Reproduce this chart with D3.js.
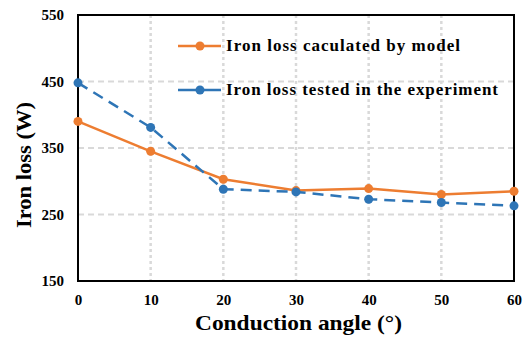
<!DOCTYPE html>
<html><head><meta charset="utf-8">
<script src="https://cdn.jsdelivr.net/npm/d3@7"></script>
<style>body{margin:0;background:#fff}svg{display:block}</style>
</head><body><svg id="c" width="530" height="339"></svg>
<script>
const angles = [0,10,20,30,40,50,60];
const modelLoss = [390,345,303,286,289,280,285];
const testLoss = [448,381,288,284,273,268,263];
const xTicks = [0,10,20,30,40,50,60];
const yTicks = [150,250,350,450,550];
const seriesNames = ["Iron loss caculated by model","Iron loss tested in the experiment"];
const colors = ["#ED7D31","#2E75B6"];
const FONT = "Liberation Serif, Times New Roman, serif";

const svg = d3.select("#c");
const L=78,R=514,T=15,B=281;
const x = d3.scaleLinear().domain([0,60]).range([L,R]);
const y = d3.scaleLinear().domain([150,550]).range([B,T]);

// grid
svg.append("g").selectAll("line").data(yTicks.filter(v=>v>150&&v<550)).join("line")
 .attr("x1",L).attr("x2",R).attr("y1",d=>y(d)).attr("y2",d=>y(d))
 .attr("stroke","#d9d9d9").attr("stroke-width",2).attr("stroke-dasharray","6,4");
svg.append("g").selectAll("line").data(xTicks.filter(v=>v>0&&v<60)).join("line")
 .attr("y1",T).attr("y2",B).attr("x1",d=>x(d)).attr("x2",d=>x(d))
 .attr("stroke","#d9d9d9").attr("stroke-width",2.5).attr("stroke-dasharray","3,3");

// frame
svg.append("rect").attr("x",L).attr("y",T).attr("width",R-L).attr("height",B-T)
 .attr("fill","none").attr("stroke","#000").attr("stroke-width",2);

// axes (labels only)
const xa = svg.append("g").attr("transform",`translate(0,${B})`).call(d3.axisBottom(x).tickValues(xTicks).tickSize(0).tickPadding(13));
xa.attr("font-family",FONT).attr("font-size",15).attr("font-weight","bold");
xa.select(".domain").remove();
xa.selectAll("text").attr("fill","#000");
const ya = svg.append("g").attr("transform",`translate(${L},0)`).call(d3.axisLeft(y).tickValues(yTicks).tickSize(0).tickPadding(14));
ya.attr("font-family",FONT).attr("font-size",15).attr("font-weight","bold");
ya.select(".domain").remove();
ya.selectAll("text").attr("fill","#000");

// series
const data=[modelLoss,testLoss];
const line=d3.line().x((d,i)=>x(angles[i])).y(d=>y(d));
data.forEach((s,k)=>{
  svg.append("path").datum(s).attr("d",line).attr("fill","none").attr("stroke",colors[k])
   .attr("stroke-width",2.5).attr("stroke-dasharray",k===1?"11,7":null);
  svg.append("g").selectAll("circle").data(s).join("circle")
   .attr("cx",(d,i)=>x(angles[i])).attr("cy",d=>y(d)).attr("r",4.5).attr("fill",colors[k]);
});

// legend
const legLen=[234,272];
seriesNames.forEach((n,k)=>{
  const ly = 46 + k*44;
  svg.append("line").attr("x1",178).attr("x2",221).attr("y1",ly).attr("y2",ly).attr("stroke",colors[k]).attr("stroke-width",2.5);
  svg.append("circle").attr("cx",200).attr("cy",ly).attr("r",4.5).attr("fill",colors[k]);
  svg.append("text").attr("x",226).attr("y",ly+5).attr("font-family",FONT).attr("font-weight","bold")
   .attr("font-size",17).attr("textLength",legLen[k]).attr("lengthAdjust","spacing").text(n);
});

// axis titles
svg.append("text").attr("x",195).attr("y",330).attr("font-family",FONT).attr("font-weight","bold").attr("font-size",21)
 .attr("textLength",207).attr("lengthAdjust","spacingAndGlyphs").text("Conduction angle (°)");
svg.append("text").attr("transform",`translate(31,228) rotate(-90)`).attr("font-family",FONT).attr("font-weight","bold").attr("font-size",21)
 .attr("textLength",126).attr("lengthAdjust","spacingAndGlyphs").text("Iron loss (W)");
</script></body></html>
